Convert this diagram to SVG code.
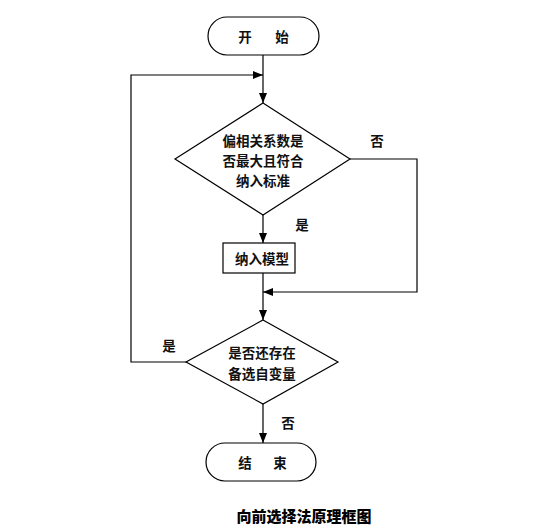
<svg xmlns="http://www.w3.org/2000/svg" width="538" height="528" viewBox="0 0 538 528">
<defs>
<marker id="arr" markerWidth="10" markerHeight="8" refX="10" refY="4" orient="auto" markerUnits="userSpaceOnUse">
<path d="M0,0 L10,4 L0,8 Z" fill="#000"/>
</marker>
<style>
.s{fill:#fff;stroke:#000;stroke-width:1.2}
.c{fill:none;stroke:#000;stroke-width:1.2}
.t{font-family:"Noto Sans CJK SC","Noto Sans CJK JP",sans-serif;font-size:13.5px;font-weight:bold;fill:#111;text-anchor:middle;dominant-baseline:central}
.cap{font-family:"Noto Sans CJK SC","Noto Sans CJK JP",sans-serif;font-size:15px;font-weight:900;fill:#000;text-anchor:middle;dominant-baseline:central}
</style>
</defs>
<rect width="538" height="528" fill="#fff"/>
<g id="connectors">
<path class="c" d="M263,55 V103" marker-end="url(#arr)"/>
<path class="c" d="M186,362 H131 V75 H263" marker-end="url(#arr)"/>
<path class="c" d="M263,215 V243" marker-end="url(#arr)"/>
<path class="c" d="M350,159 H417 V292 H263" marker-end="url(#arr)"/>
<path class="c" d="M263,273 V320" marker-end="url(#arr)"/>
<path class="c" d="M263,404 V443" marker-end="url(#arr)"/>
<text class="t" x="377" y="140">否</text>
<text class="t" x="302" y="224">是</text>
<text class="t" x="169" y="345">是</text>
<text class="t" x="288" y="422">否</text>
</g>
<g id="start">
<rect class="s" x="208" y="17" width="111" height="38" rx="19"/>
<text class="t" x="245" y="36">开</text>
<text class="t" x="282" y="36">始</text>
</g>
<g id="decision1">
<polygon class="s" points="263,103 350,159 263,215 175,159"/>
<text class="t" x="263" y="140">偏相关系数是</text>
<text class="t" x="263" y="160">否最大且符合</text>
<text class="t" x="263" y="180">纳入标准</text>
</g>
<g id="include">
<rect class="s" x="223" y="243" width="72" height="30"/>
<text class="t" x="262" y="258">纳入模型</text>
</g>
<g id="decision2">
<polygon class="s" points="263,320 338,362 263,404 186,362"/>
<text class="t" x="262" y="352">是否还存在</text>
<text class="t" x="262" y="373">备选自变量</text>
</g>
<g id="end">
<rect class="s" x="206" y="443" width="110" height="38" rx="19"/>
<text class="t" x="245" y="462">结</text>
<text class="t" x="280" y="462">束</text>
</g>
<text class="cap" x="304" y="515">向前选择法原理框图</text>
</svg>
